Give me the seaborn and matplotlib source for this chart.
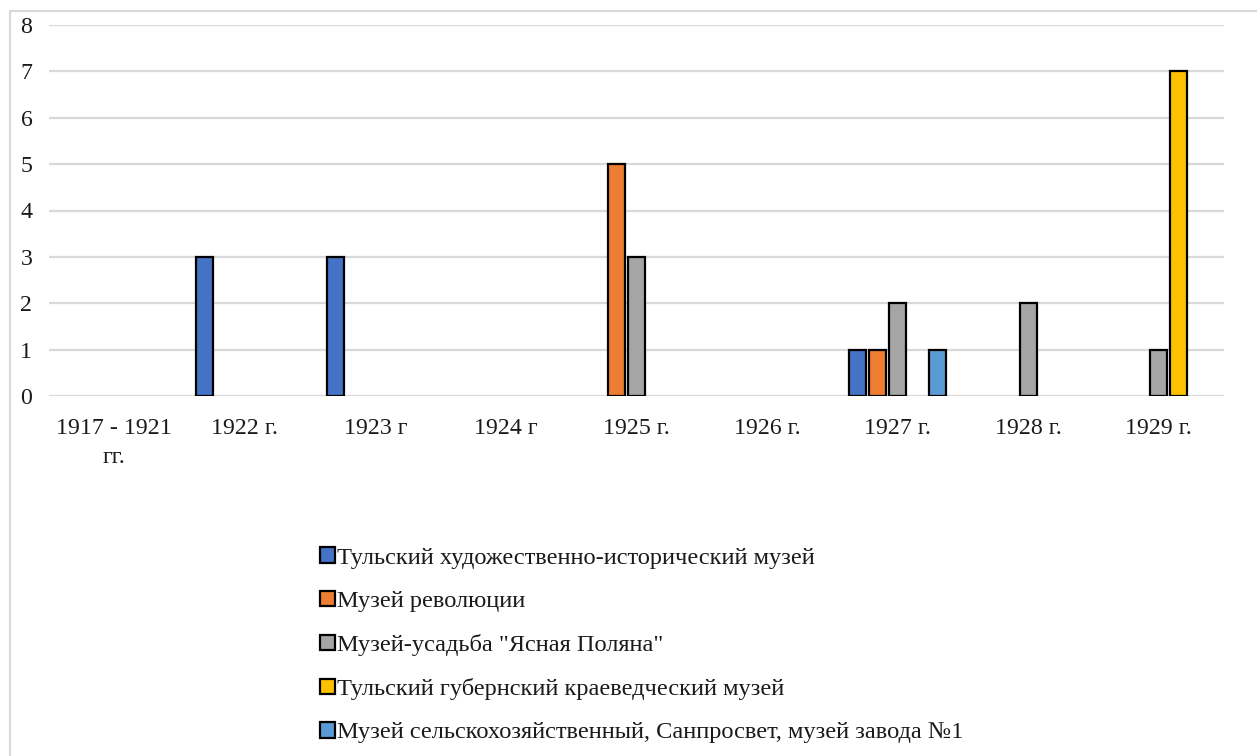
import matplotlib
matplotlib.use('Agg')
import matplotlib.pyplot as plt
import matplotlib.patches as mpatches
import pandas as pd
import seaborn as sns

# Данные
years = ['1917 - 1921\nгг.', '1922 г.', '1923 г', '1924 г', '1925 г.',
         '1926 г.', '1927 г.', '1928 г.', '1929 г.']
museums = ['Тульский художественно-исторический музей',
           'Музей революции',
           'Музей-усадьба "Ясная Поляна"',
           'Тульский губернский краеведческий музей',
           'Музей сельскохозяйственный, Санпросвет, музей завода №1']
art_history = [0, 3, 3, 0, 0, 0, 1, 0, 0]
revolution = [0, 0, 0, 0, 5, 0, 1, 0, 0]
yasnaya = [0, 0, 0, 0, 3, 0, 2, 2, 1]
gubern = [0, 0, 0, 0, 0, 0, 0, 0, 7]
other = [0, 0, 0, 0, 0, 0, 1, 0, 0]
colors = ['#4472C4', '#ED7D31', '#A5A5A5', '#FFC000', '#5B9BD5']

# длинный формат, только ненулевые значения
rows = []
for name, vals in zip(museums, [art_history, revolution, yasnaya, gubern, other]):
    for y, v in zip(years, vals):
        if v > 0:
            rows.append({'year': y, 'museum': name, 'count': v})
df = pd.DataFrame(rows)

sns.set_theme(style='white')
plt.rcParams['font.family'] = ['Liberation Serif', 'DejaVu Serif']

fig = plt.figure(figsize=(12.57, 7.56), dpi=100)
ax = fig.add_axes([49 / 1257, 1 - 396 / 756, 1175 / 1257, 371 / 756])

sns.barplot(data=df, x='year', y='count', hue='museum',
            order=years, hue_order=museums, palette=colors, saturation=1,
            width=0.766, gap=0.15, edgecolor='black', linewidth=1.6,
            dodge=True, legend=False, ax=ax)

ax.set_xlim(-0.5, len(years) - 0.5)
ax.set_ylim(0, 8)
ax.set_yticks(range(0, 9))
ax.yaxis.grid(True, color='#d9d9d9', linewidth=1.6)
ax.set_axisbelow(True)
for s in ax.spines.values():
    s.set_visible(False)
ax.set_xlabel('')
ax.set_ylabel('')
ax.tick_params(axis='x', length=0, pad=15.5, labelsize=17.2, colors='#1a1a1a')
ax.tick_params(axis='y', length=0, pad=12, labelsize=17.2, colors='#1a1a1a')
for lbl in ax.get_xticklabels():
    lbl.set_multialignment('center')
    lbl.set_linespacing(1.55)

# легенда
handles = [mpatches.Patch(facecolor=c, edgecolor='black', linewidth=1.6) for c in colors]
fig.legend(handles, museums, loc='upper left', bbox_to_anchor=(308 / 1257, 1 - 535 / 756),
           frameon=False, fontsize=17.6, handlelength=0.6, handleheight=0.6,
           handletextpad=0.08, labelspacing=0.9, borderpad=0, labelcolor='#1a1a1a')

# рамка диаграммы
fig.add_artist(plt.Line2D([10 / 1257, 1], [1 - 11 / 756, 1 - 11 / 756],
                          color='#d9d9d9', linewidth=1.5))
fig.add_artist(plt.Line2D([10 / 1257, 10 / 1257], [0, 1 - 11 / 756],
                          color='#d9d9d9', linewidth=1.5))

fig.savefig('out.png', dpi=100)
